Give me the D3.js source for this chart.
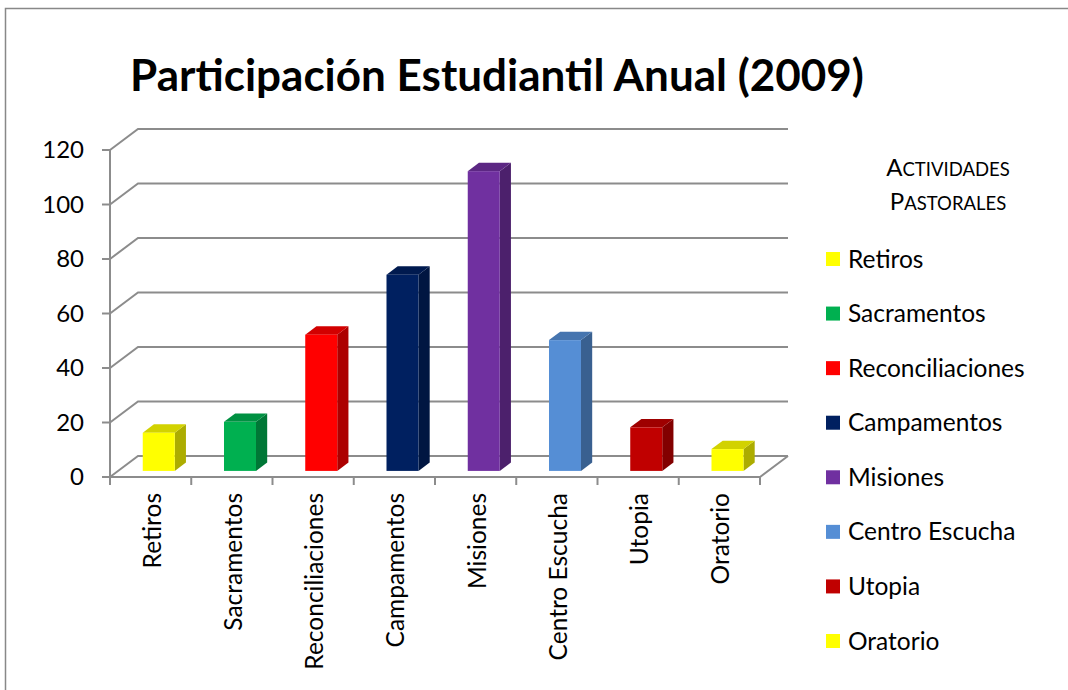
<!DOCTYPE html>
<html>
<head>
<meta charset="utf-8">
<script src="https://cdn.jsdelivr.net/npm/d3@7"></script>
<style>
  body { margin: 0; background: #fff; }
  svg text { font-family: Lato, "Open Sans", "Liberation Sans", sans-serif; fill: #000; }
</style>
</head>
<body>
<div id="chart"></div>
<script>
// Data
const categories = ["Retiros", "Sacramentos", "Reconciliaciones", "Campamentos",
                    "Misiones", "Centro Escucha", "Utopia", "Oratorio"];
const values = [14, 18, 50, 72, 110, 48, 16, 8];
const frontColors = ["#FFFF00", "#00B050", "#FF0000", "#002060",
                     "#7030A0", "#558ED5", "#C00000", "#FFFF00"];
const yTicks = [0, 20, 40, 60, 80, 100, 120];
const chartTitle = "Participación Estudiantil Anual (2009)";
const legendTitle = ["Actividades", "Pastorales"];

const width = 1068, height = 690;
const depthX = 28, depthY = -21; // offset of the back wall

const svg = d3.select("#chart").append("svg")
  .attr("width", width)
  .attr("height", height);

// chart border
svg.append("rect")
  .attr("x", 5.5).attr("y", 8.5)
  .attr("width", width + 20).attr("height", height + 20)
  .attr("fill", "none")
  .attr("stroke", "#888")
  .attr("stroke-width", 1.5);

svg.append("text")
  .attr("x", 497).attr("y", 91)
  .attr("text-anchor", "middle")
  .style("font-size", "44px")
  .style("font-weight", "bold")
  .text(chartTitle);

let x = d3.scaleBand()
  .domain(categories)
  .range([110, 760]);

let y = d3.scaleLinear()
  .domain([0, 120])
  .range([477, 150]);

const grid = svg.append("g")
  .attr("stroke", "#8c8c8c")
  .attr("stroke-width", 2)
  .attr("fill", "none");

// back wall gridlines plus the diagonal on the left wall
yTicks.forEach(function(t) {
  grid.append("path")
    .attr("d", "M" + x.range()[0] + "," + y(t) +
               "L" + (x.range()[0] + depthX) + "," + (y(t) + depthY) +
               "L" + (x.range()[1] + depthX) + "," + (y(t) + depthY));
});

// floor
grid.append("path")
  .attr("d", "M" + x.range()[0] + "," + y(0) +
             "L" + x.range()[1] + "," + y(0) +
             "L" + (x.range()[1] + depthX) + "," + (y(0) + depthY));

// left value axis
grid.append("line")
  .attr("x1", x.range()[0]).attr("x2", x.range()[0])
  .attr("y1", y(120)).attr("y2", y(0));
yTicks.forEach(function(t) {
  grid.append("line")
    .attr("x1", x.range()[0] - 8).attr("x2", x.range()[0])
    .attr("y1", y(t)).attr("y2", y(t));
});

// category ticks under the floor
const tickXs = categories.map(function(c) { return x(c); }).concat([x.range()[1]]);
tickXs.forEach(function(tx) {
  grid.append("line")
    .attr("x1", tx).attr("x2", tx)
    .attr("y1", y(0)).attr("y2", y(0) + 8);
});

svg.selectAll(".ylabel")
  .data(yTicks)
  .enter()
  .append("text")
  .attr("class", "ylabel")
  .attr("x", 84)
  .attr("y", function(d) { return y(d); })
  .attr("dy", "0.35em")
  .attr("text-anchor", "end")
  .style("font-size", "24px")
  .text(function(d) { return d; });

// 3D bars, placed partway into the depth
const barShift = 0.29, barDepth = 0.4;
const barWidth = 32;

const bars = svg.selectAll(".bar")
  .data(categories)
  .enter()
  .append("g")
  .attr("class", "bar");

bars.each(function(c, i) {
  let g = d3.select(this);
  let ox = depthX * barShift, oy = depthY * barShift;
  let bx = x(c) + x.bandwidth() / 2 - barWidth / 2 + ox;
  let top = y(values[i]) + oy;
  let bottom = y(0) + oy;
  let ddx = depthX * barDepth, ddy = depthY * barDepth;
  let base = d3.color(frontColors[i]);

  // side
  g.append("path")
    .attr("d", "M" + (bx + barWidth) + "," + top +
               "L" + (bx + barWidth + ddx) + "," + (top + ddy) +
               "L" + (bx + barWidth + ddx) + "," + (bottom + ddy) +
               "L" + (bx + barWidth) + "," + bottom + "Z")
    .attr("fill", base.darker(1.1));
  // top
  g.append("path")
    .attr("d", "M" + bx + "," + top +
               "L" + (bx + ddx) + "," + (top + ddy) +
               "L" + (bx + barWidth + ddx) + "," + (top + ddy) +
               "L" + (bx + barWidth) + "," + top + "Z")
    .attr("fill", base.darker(0.55));
  // front
  g.append("rect")
    .attr("x", bx)
    .attr("y", top)
    .attr("width", barWidth)
    .attr("height", bottom - top)
    .attr("fill", base);
});

// rotated category labels
svg.selectAll(".xlabel")
  .data(categories)
  .enter()
  .append("text")
  .attr("class", "xlabel")
  .attr("transform", function(d) {
    return "translate(" + (x(d) + x.bandwidth() / 2 + 10) + ",493) rotate(-90)";
  })
  .attr("text-anchor", "end")
  .style("font-size", "24.5px")
  .text(function(d) { return d; });

// legend
const legend = svg.append("g");
legendTitle.forEach(function(w, i) {
  let t = legend.append("text")
    .attr("x", 948)
    .attr("y", 176 + i * 34)
    .attr("text-anchor", "middle")
    .style("font-size", "24px");
  t.append("tspan").text(w[0].toUpperCase());
  t.append("tspan").style("font-size", "18.5px").text(w.slice(1).toUpperCase());
});

const legendY = d3.scalePoint()
  .domain(categories)
  .range([259, 641]);

const items = legend.selectAll(".item")
  .data(categories)
  .enter()
  .append("g")
  .attr("class", "item")
  .attr("transform", function(d) { return "translate(826," + legendY(d) + ")"; });

items.append("rect")
  .attr("x", 0).attr("y", -7)
  .attr("width", 14).attr("height", 14)
  .attr("fill", function(d, i) { return frontColors[i]; });

items.append("text")
  .attr("x", 22)
  .attr("dy", "0.35em")
  .style("font-size", "24.5px")
  .text(function(d) { return d; });
</script>
</body>
</html>
